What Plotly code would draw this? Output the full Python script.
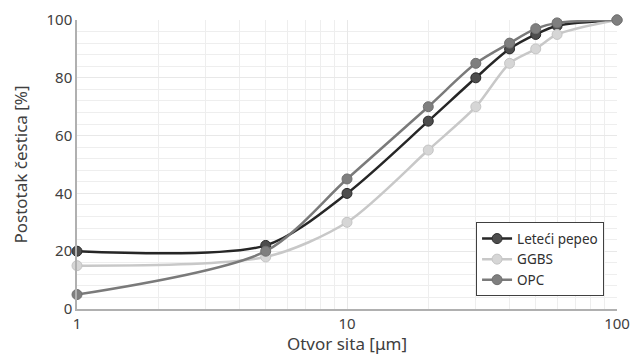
import plotly.graph_objects as go

sieve = [1, 5, 10, 20, 30, 40, 50, 60, 100]
letecci_pepeo = [20, 22, 40, 65, 80, 90, 95, 98, 100]
ggbs = [15, 18, 30, 55, 70, 85, 90, 95, 100]
opc = [5, 20, 45, 70, 85, 92, 97, 99, 100]

series = [
    ("Leteći pepeo", letecci_pepeo, "#262626", "#4d4d4d", "#2a2a2a"),
    ("GGBS", ggbs, "#c8c8c8", "#d6d6d6", "#c4c4c4"),
    ("OPC", opc, "#7a7a7a", "#7f7f7f", "#707070"),
]

fig = go.Figure()
for name, vals, lc, mc, ml in series:
    fig.add_trace(go.Scatter(
        x=sieve, y=vals, name=name, mode="lines+markers",
        line=dict(color=lc, width=2.5, shape="spline", smoothing=0.8),
        marker=dict(size=10, color=mc, line=dict(color=ml, width=1)),
        cliponaxis=False,
    ))

font = "Noto Sans"
fig.update_layout(
    width=633, height=355,
    margin=dict(l=77, r=16, t=20, b=46),
    paper_bgcolor="white", plot_bgcolor="white",
    font=dict(family=font, color="#404040", size=15),
    showlegend=True,
    legend=dict(
        x=0.739, y=0.30, xanchor="left", yanchor="top",
        bgcolor="white", bordercolor="#404040", borderwidth=1,
        font=dict(size=13.5, color="#303030"), tracegroupgap=0,
        itemwidth=30,
    ),
    xaxis=dict(
        type="log", range=[0, 2], automargin=False,
        tickvals=[1, 10, 100], ticktext=["1", "10", "100"],
        showgrid=True, gridcolor="#e8e8e8", gridwidth=1,
        minor=dict(tickvals=[2, 3, 4, 5, 6, 7, 8, 9, 20, 30, 40, 50, 60, 70, 80, 90],
                   showgrid=True, gridcolor="#eeeeee", gridwidth=1),
        showline=True, linecolor="#b0b0b0", linewidth=1.5,
        ticks="", zeroline=False,
        title=dict(text="Otvor sita [μm]", font=dict(size=17, color="#404040")),
        tickfont=dict(size=15, color="#404040"),
    ),
    yaxis=dict(
        range=[0, 100], tickvals=[0, 20, 40, 60, 80, 100], automargin=False,
        showgrid=True, gridcolor="#e8e8e8", gridwidth=1,
        minor=dict(dtick=4, showgrid=True, gridcolor="#eeeeee", gridwidth=1),
        showline=True, linecolor="#b0b0b0", linewidth=1.5,
        ticks="", zeroline=False,
        title=dict(text="Postotak čestica [%]", font=dict(size=17, color="#404040")),
        tickfont=dict(size=15, color="#404040"),
    ),
)

fig.write_html("out.html", config={"displayModeBar": False},
               post_script="document.body.style.margin='0';document.body.style.overflow='hidden';")
